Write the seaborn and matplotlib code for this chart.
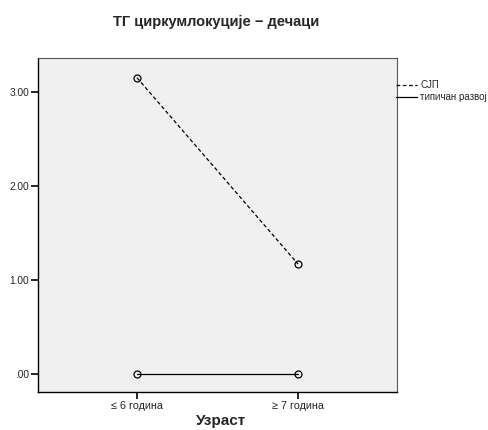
import matplotlib
matplotlib.use("Agg")
import matplotlib.pyplot as plt
import seaborn as sns
import pandas as pd

categories = ["≤ 6 година", "≥ 7 година"]
series_names = ["СЈП", "типичан развој"]
sjp_values = [3.15, 1.17]
typical_values = [0.0, 0.0]
y_ticks = [0.0, 1.0, 2.0, 3.0]
y_tick_labels = [".00", "1.00", "2.00", "3.00"]

sns.set_style("ticks")
plt.rcParams['font.family'] = ['Liberation Sans', 'DejaVu Sans']

fig = plt.figure(figsize=(4.89, 4.30), dpi=100)
ax = fig.add_axes([38/489, 38/430, (397-38)/489, (392-58)/430])
ax.set_facecolor("#f0f0f0")

df_sjp = pd.DataFrame({"x": range(len(categories)), "y": sjp_values})
df_typ = pd.DataFrame({"x": range(len(categories)), "y": typical_values})

sns.lineplot(data=df_sjp, x="x", y="y", ax=ax, color="black", lw=0.9,
             linestyle=(0, (3, 2)), marker="o", markersize=5,
             markerfacecolor="none", markeredgecolor="black", markeredgewidth=0.9,
             label=series_names[0], legend=False)
sns.lineplot(data=df_typ, x="x", y="y", ax=ax, color="black", lw=0.9,
             linestyle="-", marker="o", markersize=5,
             markerfacecolor="none", markeredgecolor="black", markeredgewidth=0.9,
             label=series_names[1], legend=False)

ax.set_xlim(-0.615, 1.615)
ax.set_ylim(-0.19, 3.36)
ax.set_xticks(range(len(categories)))
ax.set_xticklabels(categories, fontsize=7.8)
ax.set_yticks(y_ticks)
ax.set_yticklabels(y_tick_labels, fontsize=7.3)
ax.tick_params(axis="both", which="major", direction="out", length=5, width=1.2,
               color="black", labelcolor="#222222", pad=1.5)

for s in ["left", "bottom"]:
    ax.spines[s].set_color("black")
    ax.spines[s].set_linewidth(1.0)
for s in ["top", "right"]:
    ax.spines[s].set_visible(True)
    ax.spines[s].set_color("#555555")
    ax.spines[s].set_linewidth(0.8)

ax.set_xlabel("")
ax.set_ylabel("")
fig.text(221/489, 1 - 421/430, "Узраст", ha="center", va="center",
         fontsize=11, fontweight="bold")
fig.text(216/489, 1 - 22/430, "ТГ циркумлокуције − дечаци", ha="center", va="center",
         fontsize=10.5, fontweight="bold")

handles = [plt.Line2D([], [], color="black", lw=0.9, linestyle=(0, (3, 2))),
           plt.Line2D([], [], color="black", lw=0.9, linestyle="-")]
leg = fig.legend(handles, series_names, loc="upper left", bbox_to_anchor=(396/489, 1 - 80/430),
                 frameon=False, fontsize=7, handlelength=2.2, handletextpad=0.3,
                 labelspacing=0.2, borderaxespad=0, borderpad=0)

fig.savefig("out.png", dpi=100)
